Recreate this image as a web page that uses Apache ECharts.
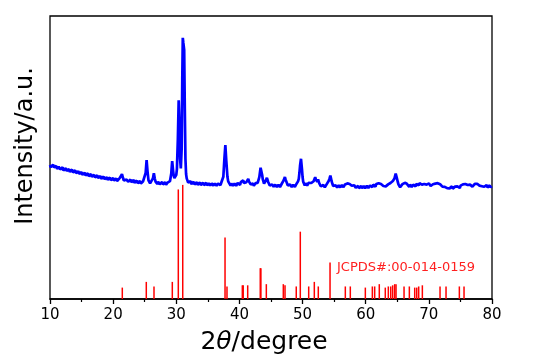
<!DOCTYPE html>
<html>
<head>
<meta charset="utf-8">
<script src="https://cdn.jsdelivr.net/npm/echarts@6/dist/echarts.min.js"></script>
<style>html,body{margin:0;padding:0;background:#fff}#c{width:536px;height:363px}</style>
</head>
<body>
<div id="c"></div>
<script>
// x tick labels
const xTicks = [10, 20, 30, 40, 50, 60, 70, 80];
// measured XRD pattern: [2theta, counts]
const measured = [
[10.00,1340],[10.12,1318],[10.25,1312],[10.38,1338],[10.50,1344],[10.62,1316],[10.75,1304],[10.88,1330],
[11.00,1330],[11.12,1300],[11.25,1297],[11.38,1322],[11.50,1324],[11.62,1296],[11.75,1290],[11.88,1314],
[12.00,1316],[12.12,1286],[12.25,1282],[12.38,1306],[12.50,1308],[12.62,1280],[12.75,1275],[12.88,1298],
[13.00,1300],[13.12,1272],[13.25,1268],[13.38,1290],[13.50,1294],[13.62,1266],[13.75,1260],[13.88,1282],
[14.00,1286],[14.12,1258],[14.25,1254],[14.38,1276],[14.50,1278],[14.62,1250],[14.75,1244],[14.88,1266],
[15.00,1270],[15.12,1242],[15.25,1238],[15.38,1258],[15.50,1263],[15.62,1236],[15.75,1230],[15.88,1250],
[16.00,1256],[16.12,1228],[16.25,1224],[16.38,1244],[16.50,1250],[16.62,1222],[16.75,1217],[16.88,1236],
[17.00,1242],[17.12,1216],[17.25,1212],[17.38,1230],[17.50,1236],[17.62,1210],[17.75,1204],[17.88,1224],
[18.00,1230],[18.12,1202],[18.25,1198],[18.38,1218],[18.50,1224],[18.62,1198],[18.75,1192],[18.88,1212],
[19.00,1218],[19.12,1192],[19.25,1188],[19.38,1206],[19.50,1214],[19.62,1188],[19.75,1184],[19.88,1202],
[20.00,1210],[20.12,1184],[20.25,1180],[20.38,1200],[20.50,1206],[20.62,1180],[20.75,1178],[20.88,1200],
[21.00,1206],[21.25,1226],[21.40,1248],[21.55,1212],[21.70,1184],[21.85,1196],[22.00,1176],[22.12,1194],
[22.25,1200],[22.38,1172],[22.50,1168],[22.62,1188],[22.75,1194],[22.88,1168],[23.00,1164],[23.12,1184],
[23.25,1190],[23.38,1162],[23.50,1158],[23.62,1178],[23.75,1184],[23.88,1158],[24.00,1154],[24.12,1176],
[24.25,1180],[24.38,1154],[24.50,1150],[24.62,1172],[24.75,1178],[24.90,1176],[25.00,1194],[25.15,1262],
[25.30,1388],[25.45,1272],[25.60,1186],[25.72,1172],[25.85,1156],[26.00,1176],[26.15,1174],[26.30,1206],
[26.45,1258],[26.60,1202],[26.72,1174],[26.85,1158],[27.00,1150],[27.12,1172],[27.25,1174],[27.38,1148],
[27.50,1144],[27.62,1168],[27.75,1170],[27.88,1146],[28.00,1142],[28.12,1166],[28.25,1168],[28.38,1142],
[28.50,1140],[28.62,1164],[28.75,1166],[28.88,1150],[29.00,1178],[29.20,1252],[29.35,1378],[29.50,1282],
[29.60,1230],[29.70,1208],[29.80,1226],[29.90,1216],[30.00,1242],[30.10,1300],[30.25,1600],[30.38,1988],
[30.50,1750],[30.60,1400],[30.72,1306],[30.85,1500],[30.95,2200],[31.03,2612],[31.12,2560],[31.25,2492],
[31.35,1900],[31.45,1400],[31.55,1250],[31.65,1206],[31.75,1188],[31.88,1164],[32.00,1154],[32.12,1176],
[32.25,1178],[32.38,1150],[32.50,1146],[32.62,1170],[32.75,1172],[32.88,1146],[33.00,1142],[33.12,1166],
[33.25,1168],[33.38,1142],[33.50,1138],[33.62,1162],[33.75,1166],[33.88,1140],[34.00,1136],[34.12,1160],
[34.25,1164],[34.38,1138],[34.50,1134],[34.62,1158],[34.75,1162],[34.88,1136],[35.00,1132],[35.12,1158],
[35.25,1160],[35.38,1134],[35.50,1130],[35.62,1156],[35.75,1158],[35.88,1134],[36.00,1130],[36.12,1156],
[36.25,1158],[36.38,1132],[36.50,1128],[36.62,1154],[36.75,1156],[36.88,1136],[37.00,1138],[37.12,1162],
[37.25,1164],[37.45,1222],[37.62,1402],[37.77,1538],[37.92,1382],[38.10,1222],[38.22,1176],[38.35,1156],
[38.48,1168],[38.60,1134],[38.72,1156],[38.85,1158],[38.98,1132],[39.10,1130],[39.22,1154],[39.35,1156],
[39.48,1132],[39.60,1134],[39.72,1160],[39.85,1162],[39.98,1140],[40.10,1142],[40.22,1168],[40.35,1166],
[40.48,1176],[40.60,1186],[40.72,1160],[40.85,1154],[40.98,1176],[41.10,1168],[41.25,1186],[41.40,1202],
[41.52,1174],[41.65,1160],[41.78,1146],[41.90,1134],[42.02,1158],[42.15,1156],[42.28,1132],[42.40,1132],
[42.52,1156],[42.65,1158],[42.78,1140],[42.90,1164],[43.02,1182],[43.15,1218],[43.35,1312],[43.50,1292],
[43.60,1240],[43.70,1196],[43.80,1176],[43.90,1154],[44.00,1172],[44.10,1166],[44.22,1190],[44.35,1212],
[44.45,1192],[44.55,1170],[44.68,1156],[44.80,1136],[44.92,1146],[45.05,1122],[45.18,1146],[45.30,1146],
[45.42,1122],[45.55,1120],[45.68,1144],[45.80,1144],[45.92,1120],[46.05,1118],[46.18,1142],[46.30,1142],
[46.42,1120],[46.55,1126],[46.68,1150],[46.80,1152],[46.90,1168],[47.00,1186],[47.10,1206],[47.20,1220],
[47.30,1196],[47.40,1176],[47.52,1160],[47.65,1136],[47.78,1146],[47.90,1122],[48.02,1144],[48.15,1144],
[48.28,1120],[48.40,1118],[48.52,1142],[48.65,1142],[48.78,1120],[48.90,1126],[49.02,1150],[49.15,1148],
[49.28,1176],[49.40,1202],[49.50,1260],[49.60,1332],[49.75,1402],[49.90,1302],[50.00,1220],[50.10,1172],
[50.22,1154],[50.35,1134],[50.48,1158],[50.60,1156],[50.72,1134],[50.85,1138],[50.95,1162],[51.05,1164],
[51.15,1150],[51.25,1172],[51.38,1160],[51.50,1146],[51.62,1160],[51.75,1178],[51.88,1198],[52.00,1218],
[52.10,1196],[52.20,1182],[52.32,1172],[52.45,1196],[52.55,1180],[52.65,1156],[52.78,1140],[52.90,1126],
[53.02,1142],[53.15,1118],[53.28,1140],[53.40,1140],[53.52,1116],[53.65,1118],[53.78,1144],[53.90,1146],
[54.02,1160],[54.15,1182],[54.28,1206],[54.40,1234],[54.50,1206],[54.60,1178],[54.72,1152],[54.85,1130],
[54.98,1140],[55.10,1116],[55.22,1138],[55.35,1138],[55.48,1114],[55.60,1114],[55.72,1138],[55.85,1138],
[55.98,1116],[56.10,1116],[56.22,1140],[56.35,1140],[56.48,1118],[56.60,1122],[56.72,1146],[56.85,1148],
[56.98,1132],[57.10,1156],[57.22,1160],[57.35,1136],[57.45,1150],[57.55,1164],[57.68,1144],[57.80,1132],
[57.92,1128],[58.05,1116],[58.18,1138],[58.30,1138],[58.42,1112],[58.55,1108],[58.68,1130],[58.80,1132],
[58.92,1108],[59.05,1106],[59.18,1128],[59.30,1130],[59.42,1108],[59.55,1106],[59.68,1130],[59.80,1132],
[59.92,1108],[60.05,1108],[60.18,1132],[60.30,1132],[60.42,1110],[60.55,1110],[60.68,1134],[60.80,1136],
[60.92,1116],[61.05,1118],[61.18,1144],[61.30,1146],[61.42,1124],[61.55,1124],[61.68,1150],[61.80,1152],
[61.92,1140],[62.05,1158],[62.18,1168],[62.30,1172],[62.42,1150],[62.55,1142],[62.68,1140],[62.80,1130],
[62.92,1150],[63.05,1148],[63.18,1126],[63.30,1124],[63.42,1146],[63.55,1146],[63.68,1136],[63.80,1156],
[63.92,1160],[64.05,1166],[64.18,1162],[64.30,1180],[64.42,1188],[64.55,1204],[64.65,1230],[64.75,1255],
[64.85,1230],[64.95,1204],[65.08,1170],[65.20,1144],[65.32,1138],[65.45,1118],[65.58,1138],[65.70,1130],
[65.82,1148],[65.95,1136],[66.08,1162],[66.20,1162],[66.30,1150],[66.40,1170],[66.52,1152],[66.65,1134],
[66.78,1140],[66.90,1122],[67.02,1144],[67.15,1142],[67.28,1120],[67.40,1120],[67.52,1144],[67.65,1142],
[67.78,1124],[67.90,1126],[68.02,1152],[68.15,1150],[68.28,1134],[68.40,1136],[68.52,1158],[68.65,1156],
[68.78,1140],[68.90,1144],[69.02,1164],[69.15,1162],[69.28,1150],[69.40,1170],[69.52,1160],[69.65,1144],
[69.78,1136],[69.90,1138],[70.02,1156],[70.15,1154],[70.28,1130],[70.40,1128],[70.52,1150],[70.65,1148],
[70.78,1128],[70.90,1132],[71.02,1154],[71.15,1152],[71.28,1146],[71.40,1158],[71.52,1146],[71.65,1162],
[71.78,1148],[71.90,1134],[72.02,1140],[72.15,1124],[72.28,1136],[72.40,1114],[72.52,1122],[72.65,1134],
[72.78,1124],[72.90,1108],[73.02,1128],[73.15,1128],[73.28,1106],[73.40,1104],[73.52,1126],[73.65,1126],
[73.78,1104],[73.90,1102],[74.02,1124],[74.15,1124],[74.28,1104],[74.40,1104],[74.52,1126],[74.65,1128],
[74.78,1108],[74.90,1110],[75.02,1134],[75.15,1134],[75.28,1130],[75.40,1146],[75.52,1140],[75.65,1156],
[75.78,1150],[75.90,1164],[76.02,1150],[76.15,1140],[76.28,1148],[76.40,1126],[76.52,1144],[76.65,1146],
[76.78,1124],[76.90,1124],[77.02,1144],[77.15,1134],[77.28,1152],[77.40,1144],[77.52,1160],[77.65,1152],
[77.78,1164],[77.90,1154],[78.02,1134],[78.15,1144],[78.28,1126],[78.40,1128],[78.52,1146],[78.65,1144],
[78.78,1122],[78.90,1120],[79.02,1140],[79.15,1140],[79.28,1116],[79.40,1114],[79.52,1136],[79.65,1136],
[79.78,1114],[79.90,1128],[80.00,1120]
];
// reference card peak positions and relative intensities
const refPos = [21.45,25.25,26.47,29.37,30.32,31.02,37.72,38.03,40.46,40.60,41.31,43.30,43.40,44.26,46.95,47.22,
  49.00,49.64,50.97,51.86,52.49,54.35,56.77,57.56,59.94,61.05,61.42,62.15,63.10,63.58,63.96,64.27,64.59,64.80,
  66.07,66.91,67.76,68.08,68.39,68.97,71.77,72.72,74.83,75.57];
const refInt = [10,15,11,15,96,100,54,11,12,12,12,27,27,13,13,12,
  11,59,11,15,11,32,11,11,10,11,11,13,10,11,11,12,13,13,
  11,11,10,10,11,12,11,11,11,11];
const cardLabel = 'JCPDS#:00-014-0159';

const chart = echarts.init(document.getElementById('c'), null, {renderer: 'canvas'});
const FONT = 'DejaVu Sans';
chart.setOption({
  animation: false,
  backgroundColor: '#fff',
  grid: {left: 50, top: 16, width: 442, height: 283, show: true, borderColor: '#000', borderWidth: 1.3, backgroundColor: 'transparent'},
  xAxis: {
    type: 'value', min: xTicks[0], max: xTicks[xTicks.length - 1], interval: 10,
    axisLine: {show: true, lineStyle: {color: '#000', width: 1.5}},
    axisTick: {show: true, inside: false, length: 5, lineStyle: {color: '#000', width: 1.3}},
    minorTick: {show: true, splitNumber: 2, length: 3, lineStyle: {color: '#000', width: 1.2}},
    axisLabel: {color: '#000', fontFamily: FONT, fontSize: 15, margin: 9},
    splitLine: {show: false}
  },
  yAxis: [
    {type: 'value', min: 0, max: 2830, show: false, splitLine: {show: false}},
    {type: 'value', min: 0, max: 248, show: false, splitLine: {show: false}}
  ],
  series: [
    {
      type: 'bar', xAxisIndex: 0, yAxisIndex: 1, barWidth: 1.5,
      itemStyle: {color: '#ff0000'},
      data: refPos.map((p, i) => [p, refInt[i]]),
      silent: true, z: 2
    },
    {
      type: 'line', xAxisIndex: 0, yAxisIndex: 0, data: measured, showSymbol: false,
      lineStyle: {color: '#0000ff', width: 2.7}, z: 3, silent: true
    }
  ],
  graphic: [
    {type: 'text', x: 26, y: 146, rotation: Math.PI / 2,
     style: {text: 'Intensity/a.u.', font: '24px "DejaVu Sans"', fill: '#000', textAlign: 'center', textVerticalAlign: 'middle'}},
    {type: 'text', x: 264, y: 342,
     style: {rich: {n: {font: '25px "DejaVu Sans"', fill: '#000'}, i: {font: 'italic 25px "DejaVu Sans"', fill: '#000'}},
       text: '{n|2}{i|θ}{n|/degree}', textAlign: 'center', textVerticalAlign: 'middle'}},
    {type: 'text', x: 337, y: 268,
     style: {text: cardLabel, font: '13px "DejaVu Sans"', fill: '#ff2020', textAlign: 'left', textVerticalAlign: 'middle'}}
  ]
});
</script>
</body>
</html>
